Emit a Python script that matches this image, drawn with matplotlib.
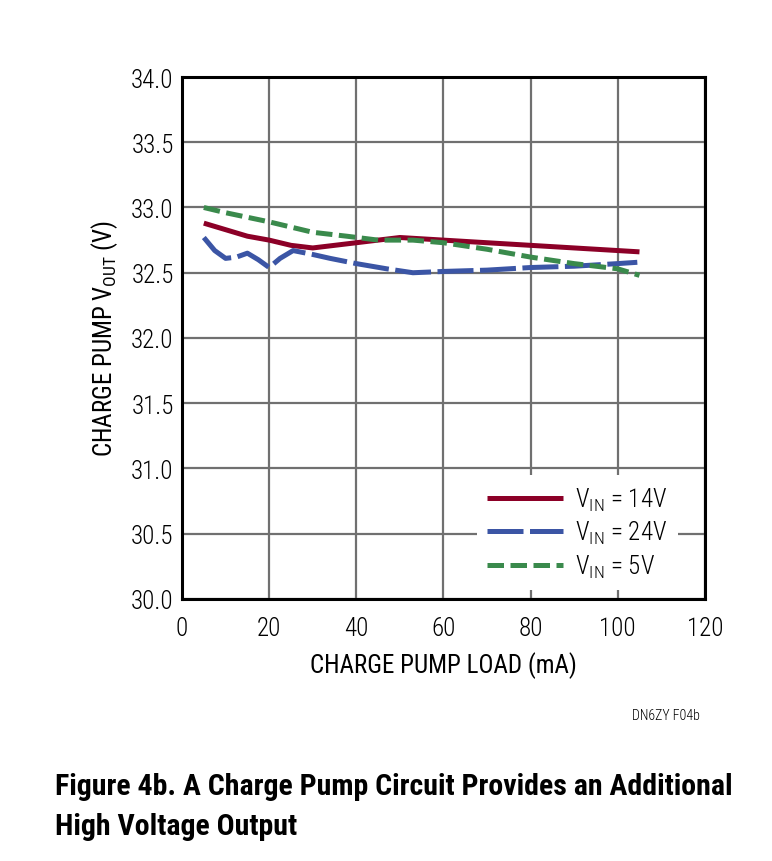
import matplotlib
matplotlib.use('Agg')
import matplotlib.pyplot as plt

plt.rcParams['font.family'] = ['Roboto Condensed', 'DejaVu Sans']
plt.rcParams['font.weight'] = 300
plt.rcParams['mathtext.fontset'] = 'custom'
plt.rcParams['mathtext.rm'] = 'Roboto Condensed:light'

# data
load_14v = [5, 10, 15, 20, 25, 30, 35, 40, 45, 50, 55, 60, 70, 80, 90, 100, 105]
vout_14v = [32.88, 32.83, 32.78, 32.75, 32.71, 32.69, 32.71, 32.73, 32.75, 32.77, 32.76, 32.75, 32.73, 32.71, 32.69, 32.67, 32.66]

load_24v = [5, 7.5, 10, 12.5, 15, 17.5, 20, 22.5, 25.5, 30, 34, 40, 47, 53, 60, 70, 80, 90, 100, 104.5]
vout_24v = [32.77, 32.67, 32.61, 32.62, 32.65, 32.60, 32.54, 32.61, 32.67, 32.64, 32.61, 32.57, 32.53, 32.50, 32.51, 32.52, 32.54, 32.55, 32.57, 32.58]

load_5v = [5, 10, 20, 30, 37.8, 45, 53, 60, 70, 80, 90, 100, 105]
vout_5v = [33.00, 32.96, 32.89, 32.81, 32.78, 32.75, 32.75, 32.73, 32.68, 32.62, 32.57, 32.53, 32.48]

labels = [r'V$_{\mathregular{IN}}$ = 14V', r'V$_{\mathregular{IN}}$ = 24V', r'V$_{\mathregular{IN}}$ = 5V']
colors = ['#8C0027', '#3B55A5', '#3A8A4C']

fig = plt.figure(figsize=(7.72, 8.62), dpi=100)
ax = fig.add_axes([0.2358, 0.304, 0.6772, 0.6055])

lw = 3.6
ax.plot(load_14v, vout_14v, color=colors[0], lw=lw, label=labels[0], solid_capstyle='butt')
ax.plot(load_24v, vout_24v, color=colors[1], lw=lw, label=labels[1], dashes=(7.2, 1.3), dash_capstyle='butt')
ax.plot(load_5v, vout_5v, color=colors[2], lw=lw, label=labels[2], dashes=(3.3, 1.3), dash_capstyle='butt')

ax.set_xlim(0, 120)
ax.set_ylim(30, 34)
ax.set_xticks(range(0, 121, 20))
ax.set_yticks([30 + 0.5 * i for i in range(9)])
ax.set_yticklabels([f'{30 + 0.5 * i:.1f}' for i in range(9)])
ax.tick_params(length=0, labelsize=18, pad=6)
ax.tick_params(axis='x', pad=12)
ax.grid(True, color='#707070', lw=1.6)
ax.set_axisbelow(True)
for s in ax.spines.values():
    s.set_linewidth(2.2)
    s.set_color('black')

ax.set_xlabel('CHARGE PUMP LOAD (mA)', fontsize=18, labelpad=8)
ax.set_ylabel(r'CHARGE PUMP V$_{\mathregular{OUT}}$ (V)', fontsize=18, labelpad=8)

leg = ax.legend(loc='lower right', bbox_to_anchor=(0.948, 0.018), borderaxespad=0,
                fontsize=18, handlelength=3.05, frameon=True,
                fancybox=False, framealpha=1, edgecolor='none',
                labelspacing=0.25, handletextpad=0.5)

fig.text(0.907, 0.169, 'DN6ZY F04b', fontsize=10, ha='right', va='center')
fig.text(0.071, 0.064, 'Figure 4b. A Charge Pump Circuit Provides an Additional\nHigh Voltage Output',
         fontsize=21.5, fontweight='bold', ha='left', va='center', linespacing=1.55)

fig.savefig('out.png', dpi=100)
